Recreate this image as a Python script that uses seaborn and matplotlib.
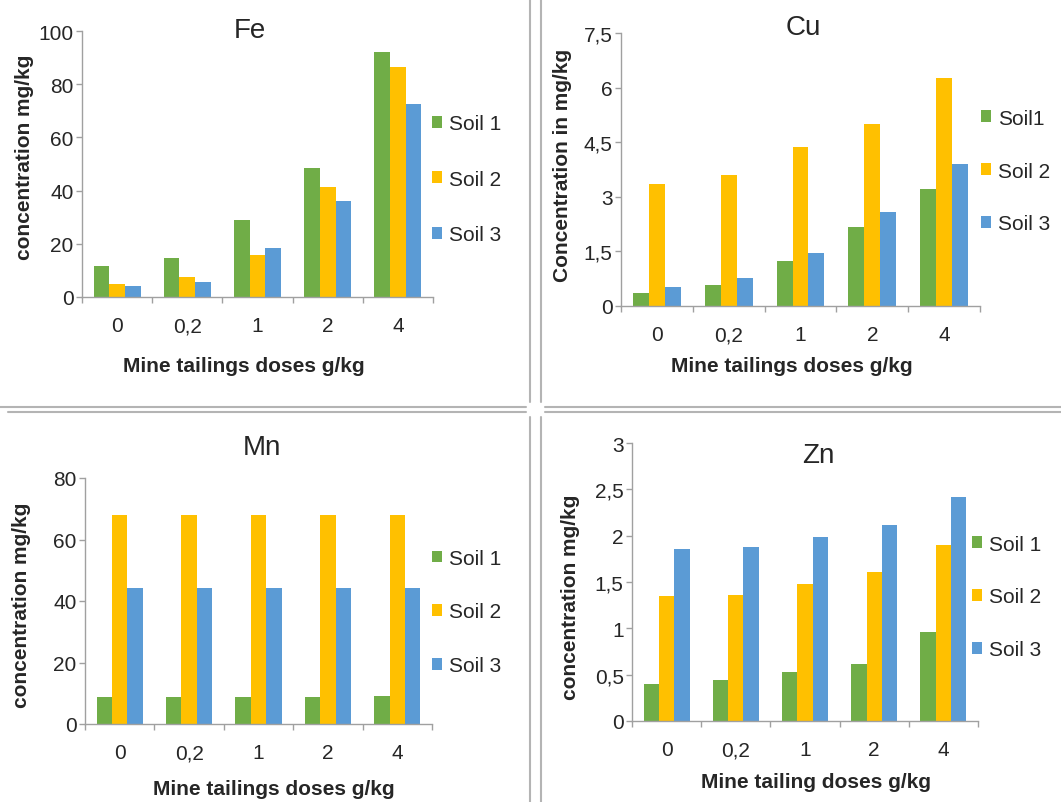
import numpy as np
import pandas as pd
import matplotlib
matplotlib.use("Agg")
import matplotlib.pyplot as plt
import seaborn as sns
from matplotlib.patches import Patch
from matplotlib.lines import Line2D

# data
doses = ["0", "0,2", "1", "2", "4"]
soils = ["Soil 1", "Soil 2", "Soil 3"]
colors = ["#70AD47", "#FFC000", "#5B9BD5"]

fe_soil1 = [11.7, 14.6, 29.0, 48.6, 92.1]
fe_soil2 = [4.8, 7.7, 15.7, 41.2, 86.4]
fe_soil3 = [4.1, 5.8, 18.6, 36.1, 72.4]

cu_soil1 = [0.36, 0.57, 1.24, 2.17, 3.22]
cu_soil2 = [3.35, 3.61, 4.36, 4.99, 6.27]
cu_soil3 = [0.52, 0.78, 1.45, 2.59, 3.90]

mn_soil1 = [8.7, 8.7, 8.7, 8.7, 9.1]
mn_soil2 = [68.0, 68.0, 68.0, 68.0, 68.0]
mn_soil3 = [44.1, 44.1, 44.1, 44.1, 44.1]

zn_soil1 = [0.40, 0.44, 0.53, 0.62, 0.96]
zn_soil2 = [1.35, 1.36, 1.48, 1.61, 1.90]
zn_soil3 = [1.86, 1.88, 1.99, 2.12, 2.42]

fe_yticks = [0, 20, 40, 60, 80, 100]
fe_yticklabels = ["0", "20", "40", "60", "80", "100"]
cu_yticks = [0, 1.5, 3, 4.5, 6, 7.5]
cu_yticklabels = ["0", "1,5", "3", "4,5", "6", "7,5"]
mn_yticks = [0, 20, 40, 60, 80]
mn_yticklabels = ["0", "20", "40", "60", "80"]
zn_yticks = [0, 0.5, 1, 1.5, 2, 2.5, 3]
zn_yticklabels = ["0", "0,5", "1", "1,5", "2", "2,5", "3"]

sns.set_style("white")
plt.rcParams["font.family"] = ["Liberation Sans", "DejaVu Sans"]

W, H = 1061, 803
fig = plt.figure(figsize=(W / 100, H / 100), dpi=100)


def px_axes(left, right, top, bottom):
    return fig.add_axes([left / W, 1 - bottom / H, (right - left) / W, (bottom - top) / H])


def fig_text(x, y, s, **kw):
    fig.text(x / W, 1 - y / H, s, ha="center", va="center", **kw)


def panel(ax, s1, s2, s3, yticks, yticklabels, legend_labels, leg_xy, leg_space):
    df = pd.DataFrame({
        "dose": doses * 3,
        "soil": np.repeat(soils, len(doses)),
        "value": s1 + s2 + s3,
    })
    sns.barplot(data=df, x="dose", y="value", hue="soil", order=doses,
                hue_order=soils, palette=colors, width=0.667, gap=0,
                saturation=1, legend=False, ax=ax, linewidth=0)
    ax.set_xlim(-0.5, len(doses) - 0.5)
    ax.set_ylim(yticks[0], yticks[-1])
    ax.set_yticks(yticks)
    ax.set_yticklabels(yticklabels)
    ax.set_xticks(range(len(doses)))
    ax.set_xticklabels(doses)
    ax.set_xticks(np.arange(-0.5, len(doses), 1.0), minor=True)
    ax.set_xlabel("")
    ax.set_ylabel("")
    for side in ["top", "right"]:
        ax.spines[side].set_visible(False)
    for side in ["left", "bottom"]:
        ax.spines[side].set_color("#A0A0A0")
        ax.spines[side].set_linewidth(1.0)
    ax.tick_params(axis="x", which="major", length=0, pad=14, labelsize=15)
    ax.tick_params(axis="x", which="minor", length=4, color="#A0A0A0", width=1,
                   direction="out", bottom=True)
    ax.tick_params(axis="y", length=4, color="#A0A0A0", width=1, pad=2,
                   labelsize=15, direction="out", left=True)
    handles = [Patch(facecolor=c, edgecolor="none") for c in colors]
    ax.legend(handles, legend_labels, loc="center left",
              bbox_to_anchor=(leg_xy[0] / W, 1 - leg_xy[1] / H),
              bbox_transform=fig.transFigure, frameon=False, fontsize=15,
              handlelength=0.5, handleheight=0.5, handletextpad=0.3,
              labelspacing=leg_space, borderpad=0, borderaxespad=0)


ax_fe = px_axes(82, 433, 32, 298)
panel(ax_fe, fe_soil1, fe_soil2, fe_soil3, fe_yticks, fe_yticklabels,
      ["Soil 1", "Soil 2", "Soil 3"], (432, 180), 1.75)

ax_cu = px_axes(621, 980, 34, 307)
panel(ax_cu, cu_soil1, cu_soil2, cu_soil3, cu_yticks, cu_yticklabels,
      ["Soil1", "Soil 2", "Soil 3"], (981, 172), 1.63)

ax_mn = px_axes(85, 432, 479, 725)
panel(ax_mn, mn_soil1, mn_soil2, mn_soil3, mn_yticks, mn_yticklabels,
      ["Soil 1", "Soil 2", "Soil 3"], (432, 613), 1.66)

ax_zn = px_axes(632, 978, 444, 722)
panel(ax_zn, zn_soil1, zn_soil2, zn_soil3, zn_yticks, zn_yticklabels,
      ["Soil 1", "Soil 2", "Soil 3"], (972, 598), 1.63)

# titles
fig_text(250, 31, "Fe", fontsize=20)
fig_text(803, 28, "Cu", fontsize=20)
fig_text(262, 448, "Mn", fontsize=20)
fig_text(818, 456, "Zn", fontsize=20)

# axis labels
fig_text(25, 157, "concentration mg/kg", fontsize=15, fontweight="bold", rotation=90)
fig_text(563, 165, "Concentration in mg/kg", fontsize=15, fontweight="bold", rotation=90)
fig_text(22, 605, "concentration mg/kg", fontsize=15, fontweight="bold", rotation=90)
fig_text(570, 597, "concentration mg/kg", fontsize=15, fontweight="bold", rotation=90)

fig_text(244, 366, "Mine tailings doses g/kg", fontsize=15, fontweight="bold")
fig_text(792, 367, "Mine tailings doses g/kg", fontsize=15, fontweight="bold")
fig_text(274, 790, "Mine tailings doses g/kg", fontsize=15, fontweight="bold")
fig_text(816, 783, "Mine tailing doses g/kg", fontsize=15, fontweight="bold")

# panel frame lines
line_color = "#B4B4B4"
frame_lines = [
    ([530, 530], [0, 403]), ([530, 530], [418, 803]),
    ([541, 541], [0, 403]), ([541, 541], [418, 803]),
    ([0, 526], [408, 408]), ([545, 1061], [408, 408]),
    ([8, 526], [413, 413]), ([545, 1061], [413, 413]),
]
for xs, ys in frame_lines:
    fig.add_artist(Line2D([x / W for x in xs], [1 - y / H for y in ys],
                          transform=fig.transFigure, color=line_color, lw=1.5))

fig.savefig("out.png", dpi=100, facecolor="white")
